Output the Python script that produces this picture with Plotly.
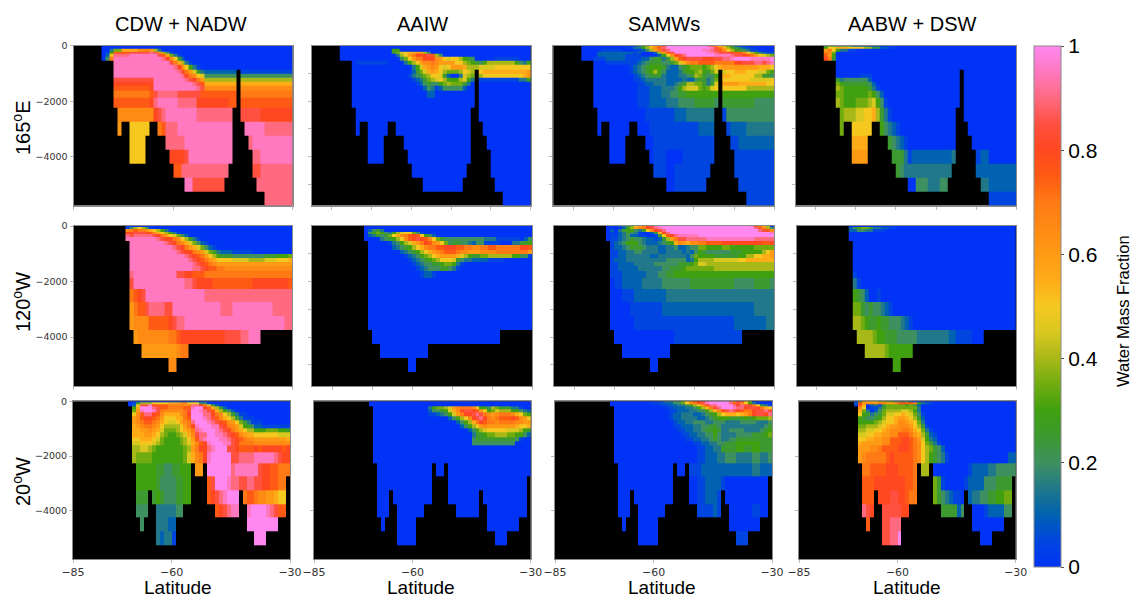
import plotly.graph_objects as go

W, H = 1132, 599
ML, MR, MT, MB = 60, 100, 40, 35
COLUMN_TITLES = ["CDW + NADW", "AAIW", "SAMWs", "AABW + DSW"]
ROW_TITLES = ["165<sup>o</sup>E", "120<sup>o</sup>W", "20<sup>o</sup>W"]
LAT_EDGES = list(range(-85, -29))
DEPTH_EDGES = [0, 50, 100, 200, 300, 400, 550, 700, 850, 1000, 1150, 1300, 1450, 1620, 1880,
               2250, 2750, 3250, 3750, 4250, 4750, 5250, 5750]

# Sea-floor depth (m) of each 1-degree column, -85 to -31
FLOOR_165E = [0]*7 + [550]*3 + [2250, 3250, 2750, 2750] + [4250]*4 + [3250, 2750, 2750, 3250, 3250, 3750, 4250] + \
    [4750]*3 + [5250]*10 + [4750, 4250, 2250, 850, 2750, 3250, 3750, 4750, 5250, 5250] + [5750]*7
FLOOR_120W = [0]*13 + [550, 3750, 4250, 4250] + [4750]*7 + [5250, 5250] + [4750]*3 + [4250]*18 + [3750]*8
FLOOR_20W = [0]*14 + [200, 2250, 4250, 4750, 4250, 3250, 3750] + [5250]*5 + [4250]*2 + [3750]*2 + \
    [2250, 2750, 2750, 2250, 3750, 3750] + [4250]*6 + [3250, 3750, 4750, 4750] + [5250]*3 + [4750]*3 + [4250]*2 + [2750]

# Fractions, one string per depth layer: a letter is a value in 0.05 steps (a=0 ... u=1),
# the number after it is the column from which that value holds.
CDW_165E = [
 "a7", "a7",
 "a7 d9 h10 l12 n16 m19 i20 d21 a22",
 "a7 b8 g9 p10 r14 s19 r20 n21 i22 e23 b24 a25",
 "a7 c8 k9 s10 t14 r21 p22 l23 h24 d25 b26 a27",
 "a7 e8 o9 t10 s22 q23 n24 k25 f26 c27 a28",
 "a7 t10 r24 o25 l26 i27 d28 b29 a30",
 "t10 s25 q26 n27 k28 g29 d30 b31 a32",
 "t10 s26 q27 o28 m29 j30 f31 d32 c33 b41",
 "t10 s27 q28 o29 n30 k31 j32 e33",
 "r10 t20 s28 r29 q30 o31 m32 i33",
 "q10 t20 s30 r31 p32 l33",
 "p10 q19 t20 s31 r32 n33",
 "o10 p19 r20 s21 r26 p32 o42",
 "p10 q19 s20 t21 s26 q31 p39",
 "n11 q20 r21 s22 t23 s31 r42 q47",
 "m11 k14 o21 p22 s23 t26 s48",
 "k14 s23 t28 s44 t45",
 "k14 q24 r28 t29 s45 t47",
 "p25 s27 r45 s47",
 "t28 r30 s46",
 "s48",
]
AAIW_165E = [
 "a7", "a7",
 "a7 g20 a22",
 "a7 f20 h21 j22 k23 l24 m26 i28 e29 a30",
 "a7 d21 i22 k23 m24 o25 q26 r29 p30 i31 e32 a33",
 "a7 e22 h23 k24 m25 o26 q28 n31 m32 k33 j34 k35 i37 g38 f39 e40 a41 b46 a52",
 "a7 b11 a19 d23 g24 i25 k26 m27 n28 o30 n31 m32 k36 i38 h39 g40 f41 e42 g43 i44 g51 e52 d53 g54",
 "a7 d25 g26 j27 l28 m29 n30 m31 k32 j33 k34 m35 l38 i39 j42 k46",
 "a7 c25 f26 h27 j28 l29 m30 l31 k32 i33 h34 i37 k38 j39 i40 k42 l43 m54",
 "a7 b24 d25 e26 f27 h28 i29 k30 j32 f33 c34 a35 d37 j38 i39 h40 i42 k43 l53 m54",
 "a7 b25 c26 d27 f28 h29 i30 j31 k32 i33 g34 i37 j38 g39 d40 b42 d52 g54",
 "a7 b26 c27 e28 f29 e30 g32 h33 i34 h35 f38 d39 a40",
 "a7 c28 e29 d30 b31 c32 e33 c38 a39",
 "a7 c29 a31",
 "a7", "a7", "a7", "a7", "a7", "a7", "a7", "a7",
]
SAMW_165E = [
 "a7 b20 d21 f22 h23 k24 m25 o26 q27 u28 s38 p39 n40 k41 i42 g43 e44 c45 b46 a47",
 "a7 b18 d20 g22 i23 l24 n25 p26 s27 u28 t39 r40 o41 l42 i43 g44 e45 d46 c47 b48 a50",
 "a7 b12 a17 b20 c22 e23 i24 m25 o26 r27 s28 u29 t37 s39 r40 p41 n42 k43 i44 g45 f46 e47 d48 b49 a51",
 "a7 c11 b20 c21 a22 c25 i26 m27 p28 r29 u30 t38 s40 r41 q44 p45 n47 k48 i49 g50 d51 c52 b53",
 "a7 c11 b18 a22 c26 g27 k28 n29 q30 r31 s32 u33 t40 s44 r45 q47 p48 o49 m50 k51 j52 i53 h54",
 "a7 b10 c13 b18 c22 e24 f25 d27 f28 i29 m30 p31 q32 r33 q37 r40 s42 t44 u45 t49 u54",
 "a7 b13 c21 d22 e23 f24 e27 f29 h30 j31 l32 n33 o34 p36 o40 q45 r47 s50 r52 s53 t54",
 "a7 b19 c20 d21 e22 f23 g24 f27 d28 c29 e31 f32 g33 h34 g37 h38 i39 k40 l41 m42 l51 k54",
 "a7 b19 c20 d21 e22 f23 g24 i25 g26 e27 c28 d31 f32 g33 h35 i36 g37 f38 h39 j40 k43 l45 k48 j51 h53 g54",
 "a7 b20 c21 d22 e23 f24 d27 c28 d31 e33 f34 i35 h36 f37 e38 g40 l42 k44 i50 f52 e54",
 "a7 b20 c22 d23 c28 d32 c33 e35 f36 d38 e39 h40 k42 j49 k54",
 "a7 b21 c23 d25 c28 d30 e31 f32 i33 h35 f37 d38 f39 j40 m42 l46 k53",
 "a7 b21 c24 d27 e30 g31 i32 j33 h36 g37 h38 j39 k40 i48",
 "a7 b21 c24 d27 e29 f31 g33",
 "a7 b21 c24 d28 e31 f35 e40 f42 e50",
 "a7 b23 c30 d33 c40 b42 e43",
 "a7 b24 c36 b43 c44 d48",
 "a14 b25 b43 c46",
 "a14 b25 a28 b32 b44",
 "b25 a28 b30 b45",
 "a28 b30 b46",
 "b48",
]
AABW_165E = [
 "e7 f8 e10 c14 b18 a21",
 "g7 k8 l10 k13 i17 f19 c21 b23 a25",
 "m7 o8 k9 g10 d11 b13 a15",
 "o7 n8 h9 a10",
 "p7 m8 g9 a10",
 "q7 o8 f9 a10",
 "a7", "a7", "a7",
 "a10 b16 a19",
 "f10 d11 e12 c18 a19",
 "h10 g11 f12 e18 c19 a20",
 "i10 h11 g12 f18 d19 b20 a21",
 "h10 g12 h18 g19 e20 c21 a22",
 "i10 h11 g12 h15 i18 j19 g20 e21 b22 a23",
 "h11 i12 j15 k17 l19 i20 f21 d22 b23 a24",
 "h11 k14 g21 e22 d23 c24 b25 a26",
 "l14 f23 e24 d25 c26 b27 a28",
 "m14 f24 d27 b28 c29 d39 b45 c46 a48",
 "f25 e26 d27 c45",
 "a28 e30 d33 e36 d46 c48",
 "b48",
]
CDW_120W = [
 "a13",
 "b13 e14 i15 k16 i17 f18 b19 a20",
 "n13 o14 p15 o16 n18 l19 k20 i21 g22 d23 b24 a25",
 "q13 r15 q18 p19 n20 l21 k22 i23 g24 d25 b26 a27",
 "s13 r14 s15 r20 q21 o22 m23 k24 j25 h26 e27 c28 a29",
 "t13 s21 r22 q23 o25 n26 k27 i28 f29 d30 b31 a32",
 "t14 s23 r24 q25 o26 n27 l28 j29 h30 e31 c32 b33 a34",
 "t14 s25 r26 q27 o28 m29 l30 j31 h32 e33 c34 b35 a36",
 "t14 s26 r27 q28 o30 n31 m32 j33 h34 f35 d36 c37 b40 a45",
 "t14 s28 r29 q30 p31 o32 m33 k34 i35 g36 f37 e40 f48 g51 h54",
 "t14 s29 r30 q31 p32 o33 m34 l35 k36 j40 i44 j48 k51 l54",
 "t14 s30 r31 q32 p33 o34 n35 m36",
 "t14 s30 r32 q33 p34 o36 n38",
 "s14 t15 r26 q28 p30 o33",
 "r14 t15 s28 r30 q31 p35 q45 p54",
 "o14 p15 q16 r17 t18 s33",
 "m14 o15 p16 r18 s19 r23 t25 s37 t40 s50",
 "m14 n15 p19 q24 r25 s26 t28 s53",
 "m15 n16 o24 p26 q27 r38 s42 t44",
 "m17 n26 o27",
 "n24",
 "a13",
]
AAIW_120W = [
 "a13", "a13",
 "a13 c14 e15 f16 d17 a18",
 "a13 e14 g15 h16 g17 e18 d19 g20 i21 j22 k23 h25 e26 b27 a28",
 "a13 c14 d15 f16 e17 f18 h19 k20 l21 n22 o23 p24 q25 p26 k27 g28 e29 c30 a31",
 "a16 d17 e18 f19 g20 i21 k22 n23 p24 q25 r26 q27 p28 n29 k30 h31 f32 e33 d43 b46 a52 c53 e54",
 "a18 b19 d20 e21 g22 i23 j24 l25 m26 o27 q28 p29 n30 m31 k32 h33 e34 f35 e37 d39 c40 e41 b43 a47 d50 f52 g54",
 "a19 c20 d21 e22 f23 g24 i25 k26 l27 n28 o29 p31 q33 p36 o38 n40 o42 p44 o46 q52 p54",
 "a21 c22 d23 e24 f25 g26 i27 k28 l29 m30 n31 o32 p33 o36 n37 m39 n42 o46 m54",
 "a22 b23 c24 d25 e26 g27 h28 i29 k30 l31 m32 l36 j37 i38 g39 f40 h42 i44 g50 e52 b54",
 "a23 b24 c25 d26 e27 f28 g29 h30 i31 k32 j35 f36 e37 d38 c40 b44 a48",
 "a24 b25 c26 d27 e28 f30 g32 h33 g35 d36 b37 a38",
 "a25 b26 c27 d28 e29 f32 e34 d35 b36 a37",
 "a26 b27 c28 b30 a31",
 "a13", "a13", "a13", "a13", "a13", "a13", "a13", "a13",
]
SAMW_120W = [
 "a13 b14 c16 d17 f18 h19 k20 m21 o22 q23 r24 t25 u26 t49 q50 o51 l52 i53 a54",
 "a13 c17 f18 i19 m20 n21 o22 q23 r24 s25 t26 u27 s50 p51 n52 i53 e54",
 "a13 c14 a15 d16 f17 g18 e20 d21 f22 k23 n24 q25 r26 s27 u28 s51 r52 p53 n54",
 "b14 a15 c16 d17 f18 e19 d20 b21 a22 c24 f25 l26 q27 s28 u29 t54",
 "b14 c16 d17 e18 c19 b21 a23 b25 f26 k27 p28 q29 s30 t31 u36",
 "b14 c16 d17 e18 f19 e20 d22 c23 b25 c26 f27 i28 m29 o30 r31 s33 t38 s50",
 "b14 c15 d16 e17 g18 e21 d22 c23 d26 e27 f28 g29 l30 n31 m32 l33 n34 o36 p38 q42 p52 q54",
 "b14 c15 d17 e18 f19 e22 d23 c26 d28 e30 c31 d33 e34 h36 g38 h42 g44 h50",
 "b14 c16 d18 e20 d22 c26 d28 c32 d33 c34 e35 g36 f37 e38 f44 g47 i52 k53 m54",
 "b14 c16 d18 c24 d26 c33 e34 h35 g36 f40 g46 i48 k50 l52 m54",
 "b14 c15 d18 e28 c33 d34 g35 i36 j40 k46 l48",
 "b14 c16 d20 e25 f31 g34 h35 j36 i38",
 "b14 c16 d21 e27 f29 g32 h33 i40",
 "b14 c17 d23 e26 f28 g30",
 "a14 b15 c17 d22 e27 f34 e45 f50 e54",
 "a14 b17 c20 d28",
 "a14 b19 c27 d50",
 "a14 b20 c45 d53",
 "a15 b30",
 "a17", "a24", "a13",
]
AABW_120W = [
 "a13",
 "c13 e14 g15 h16 f18 d19 c21 b23 a25",
 "c13 e15 d17 b19 a22",
 "a13", "a13", "a13", "a13", "a13", "a13", "a13", "a13", "a13", "a13",
 "b14 a15",
 "d14 b15 a16",
 "g14 f15 e16 c17 a18 b20 a21",
 "h14 f16 e17 f18 e19 d21 c22 b23 a24",
 "i14 h16 g17 f18 g20 f21 e23 d26 c27 b28 a29",
 "i15 h19 g20 f22 e25 d30 c38 b40 a44",
 "i17 h22 g23",
 "g24",
 "a13",
]
CDW_20W = [
 "a14",
 "a14 b15 f16 i17 k20 l24 m27 n28 k29 e32 b34 a35",
 "a14 c15 k16 r17 t19 q20 p21 o24 n28 o29 s30 q32 o33 j34 f35 c36 a37",
 "b14 g15 l16 u17 s20 r21 p22 o24 p28 t30 u31 q33 p34 l35 i36 f37 c38 a39",
 "h15 m16 t17 u18 t20 r21 o22 n23 o28 r29 u30 t32 s33 r34 p35 l36 i37 g38 e39 c40 a41",
 "k15 n16 p17 s18 q20 p21 n22 l23 n27 o28 q29 u30 s33 q35 o36 n37 k38 i39 f40 d41 b42 a44",
 "m15 n16 p17 q18 p20 o21 m22 k23 l26 o28 p29 u30 t33 s34 r35 p36 n37 l38 k39 i40 f41 d42 b43 a46",
 "m15 n16 o17 p18 o20 n21 l22 k23 j24 k26 m27 n28 o29 s30 u31 t34 s35 r36 q37 p38 n39 m40 k41 h42 f43 d44 b45 a48",
 "l15 m16 n17 o18 n20 m21 k22 i23 k27 m28 o29 q30 t31 u32 t35 r37 q38 o39 n40 m41 j42 g43 f44 e45 c46 b48",
 "l15 m17 n19 m20 l21 j22 h23 i26 k27 l28 m29 o30 s31 t32 u33 t36 s37 r38 q39 o40 m41 l42 k43 i44 g46 h49 g52 f54",
 "l15 m18 l20 k21 i22 h23 g24 h26 i27 j28 l29 n30 r31 s32 u34 t36 s38 r39 q40 p41 n42 m43 l44 k46 j52",
 "k15 l17 k20 j21 h22 g23 h27 i28 k29 m30 p31 s32 t33 u34 t37 s39 r40 q41 p42 o43 n44 m46 l54",
 "j15 k17 j20 i21 h22 g23 h27 i28 j29 l30 n31 p32 q33 t34 u35 t38 r40 q41 o42 n46",
 "i15 j17 i19 h20 g21 h28 i29 m30 o31 q32 s34 t35 u36 r39 q41 p42 q46 p47 q48 p53 q54",
 "i15 h16 g20 h28 j29 l30 n31 o32 q33 t34 u35 r40 s42 t46 s51 r52 q53",
 "g16 f21 e23 f25 g27 m31 u34 s40 t41 r47 q48 p50 o52",
 "g16 f21 e22 f26 g28 p34 r35 u36 t39 s40 r42 s44 r46 q48 p50 o52",
 "f16 g21 f22 e23 f26 g28 p34 q35 r36 s37 t38 u39 o43 p44 o46 n47 m49 l51 k52",
 "e16 d21 e26 p36 q37 r38 s39 t40 t44 u45 t49 s50 r51 p52",
 "e17 d21 c24 u44",
 "d21 c22 d23 b25 u46",
 "a14",
]
AAIW_20W = [
 "a14", "a14", "a14",
 "a14 d29 g30 h31 i33 j34 m35 n36 o37 n40 k41 g42 e44 i45 h46 f47 d50 b52 a53",
 "a14 c29 e30 f32 g33 j34 l35 n36 q37 r38 q40 p41 m42 k43 g44 h45 j46 i47 g50 e52 d53 c54",
 "a14 b29 c31 d32 e33 g34 j35 m36 o37 q38 r40 s41 r42 o43 n44 m45 n46 o47 n50 l51 k52 h53 g54",
 "a33 c34 e35 g36 i37 k38 n39 q40 r41 s42 q43 o44 n45 o46 p47 q50 p51 n52 m53 k54",
 "a35 c36 e37 g38 i39 l40 o41 q42 p43 o44 n46 o47 n51 m53",
 "a36 c37 e38 g39 i40 k41 m42 n43 m44 l51 k52 l54",
 "a38 c39 e40 g41 i42 j43 k44 j49 i52 g53 f54",
 "a39 d40 f41 g43 h44 i46 h49 g51 e53 c54",
 "a39 e40 f41 e51 b52 a53",
 "a39 e40 a51",
 "a14", "a14", "a14", "a14", "a14", "a14", "a14", "a14", "a14",
]
SAMW_20W = [
 "a14 b26 d28 e30 h32 k33 n34 p35 q36 r37 t38 u39 s44 n45 q46 r47 k48 h49 a50",
 "a14 b24 c27 e30 h32 k33 n34 o35 q36 r37 t38 u39 s44 p45 r46 n47 k48 g49 d50 b51 a52",
 "a14 b26 c29 d31 e33 g34 i35 k36 n37 q38 s39 u41 s45 q46 s47 r48 q49 o50 k51 f52 d53 b54",
 "a14 b28 c30 d33 e35 g36 i37 l38 o39 r40 s41 u42 t45 s46 q48 r49 q51 o52 l53 k54",
 "a14 b29 c31 d34 e36 g38 i39 l40 n41 q42 r43 s44 r45 q46 p47 o48 q50 r51 s53 r54",
 "a14 b29 c30 d32 c35 d37 e38 f39 g40 i41 k42 l43 k46 l47 m48 o49 q50 r51 q53 s54",
 "a14 b29 c30 d32 c36 d38 e39 f40 g41 f44 g48 f49 g50 h51 i54",
 "a14 b30 c31 d33 e35 d38 e40 d43 e47 d51 e54",
 "a14 b30 c32 d35 e37 f39 e41 d42 e53 f54",
 "a14 b31 c33 d35 e37 f38 g40 f41 d42 e44 d48 e52 f53 g54",
 "a14 b32 c34 d36 e38 g40 e41 d42 e46 f50 g53 h54",
 "a14 b33 c35 d37 e39 f40 e41 d42 e44 f46",
 "a14 b35 c37 d39 e41 f43 g46 f52",
 "a14 b36 c38 d40 f42 g46 f48 g50 f52",
 "a14 b36 c38 d41 e43 d46 e50 d52 e54",
 "a16 b34 c37 d50 c52",
 "a16 b36 c38 b42 a43",
 "a16 b36 c38 b41 a43",
 "a16 b36 c40 b41 a44 b50 a52",
 "a17", "a21 b46", "a14",
]
AABW_20W = [
 "a14 f15 l16 k18 i20 h22 e24 c28 a29",
 "c14 q15 n16 o20 m22 n24 p25 q26 p27 o29 g30 d31 c32 b33 a34",
 "a14 p15 l16 a17 c18 d19 b20 f21 h22 g27 h28 f29 c30 a31",
 "n15 k16 a17 b18 d20 f21 h22 d30 a31",
 "l15 h16 d17 a18 c19 e20 h21 i22 j26 i28 g29 d30 a31",
 "k15 g16 f17 d18 e19 f20 h21 j22 k24 l26 k27 j28 h29 e30 b31 a32",
 "g15 f16 e17 f19 g20 i21 k22 l24 m25 l27 k28 i29 f30 c31 a32",
 "g15 h19 i20 j21 k22 l24 n25 m27 l28 k29 h30 d31 a32",
 "h15 i17 j20 k21 l22 m23 n25 m28 k29 i30 f31 b32 a33",
 "i15 j17 k19 l21 m22 n23 o26 n28 l29 k30 h31 d32 b33 a34",
 "j15 k17 l19 m21 n23 p25 o28 m29 l30 i31 f32 c33 b34 a35",
 "k15 l17 m19 n21 p23 q26 p28 o29 m30 j31 g32 d33 c34 a35",
 "l15 m16 n21 p23 q26 p28 o29 n30 k31 h32 f33 d34 b35 a36",
 "m15 n18 o20 p21 q25 p28 o29 n30 k31 i32 h33 f34 e35 c36 a37",
 "m15 n16 o17 p22 q23 p24 o29 n30 k31 i32 g33 f34 e35 d36 b37 a38 c53",
 "o16 p18 q22 p25 o29 i31 a34 b43 c44 d48 e50",
 "p16 q19 p27 o29 h34 f35 b36 a37 b42 c43 e47 f50",
 "p16 q20 r23 q25 p27 o28 h34 f35 e36 d37 c38 b39 a41 c43 d44 e46 f48 g50 h52",
 "s16 r17 q18 r21 q26 f36 c40 e41 a44 b47 c48 e52",
 "p17 r21 s23 a44",
 "r21 s23 u25 a46",
 "a14",
]

PANELS = [[CDW_165E, AAIW_165E, SAMW_165E, AABW_165E],
          [CDW_120W, AAIW_120W, SAMW_120W, AABW_120W],
          [CDW_20W, AAIW_20W, SAMW_20W, AABW_20W]]
FLOORS = [FLOOR_165E, FLOOR_120W, FLOOR_20W]

# Pixel boxes (left, right, top, bottom) of the panels
BOX_X = [[73.5, 292.5, 311.7, 530.7, 553.3, 774.3, 795.7, 1016.3],
         [73.5, 292.0, 312.0, 532.0, 554.0, 774.0, 796.7, 1016.0],
         [73.0, 290.0, 314.0, 530.7, 555.0, 772.0, 799.0, 1015.7]]
BOX_Y = [[45.7, 205.5], [226.0, 386.0], [401.3, 559.0]]

COLORS = [[0.0, "#0033f5"], [0.05, "#0045e0"], [0.1, "#0062b0"], [0.15, "#20788a"], [0.2, "#3f9060"],
          [0.25, "#3c9a30"], [0.3, "#40a010"], [0.35, "#70ac10"], [0.4, "#a8b818"], [0.45, "#d8c820"],
          [0.5, "#f5c820"], [0.55, "#ffac18"], [0.6, "#ff9a14"], [0.7, "#ff7a14"], [0.75, "#ff5a14"],
          [0.8, "#ff4820"], [0.85, "#ff5040"], [0.9, "#ff6a80"], [0.95, "#ff78c0"], [1.0, "#ff88f0"]]


def px_x(x):
    return (x - ML) / (W - ML - MR)


def px_y(y):
    return 1 - (y - MT) / (H - MT - MB)


def decode(rows, floor):
    z = []
    for k, row in enumerate(rows):
        cells = [0.0] * 55
        for token in row.split():
            v = (ord(token[0]) - ord("a")) * 0.05
            c = int(token[1:])
            cells[c:] = [v] * (55 - c)
        z.append([cells[c] if DEPTH_EDGES[k + 1] <= floor[c] else None for c in range(55)])
    return z


fig = go.Figure()
layout = {}
TEXT = "Liberation Sans"
TICK = "DejaVu Sans"
for r in range(3):
    for c in range(4):
        n = r * 4 + c + 1
        sfx = "" if n == 1 else str(n)
        fig.add_trace(go.Heatmap(x=LAT_EDGES, y=[-d for d in DEPTH_EDGES],
                                 z=decode(PANELS[r][c], FLOORS[r]), coloraxis="coloraxis",
                                 xaxis="x" + sfx, yaxis="y" + sfx, hoverongaps=False))
        x0, x1 = BOX_X[r][2 * c], BOX_X[r][2 * c + 1]
        y0, y1 = BOX_Y[r]
        xticks = [-85, -60, -30] if (c == 0 or r == 2) else [-80, -70, -60, -50, -40, -30]
        yticks = [0, -2000, -4000] if c == 0 else ([-2000, -4000] if r == 2 else [-1000, -2000, -3000, -4000, -5000])
        layout["xaxis" + sfx] = dict(domain=[px_x(x0), px_x(x1)], range=[-85, -30], anchor="y" + sfx,
                                     tickvals=xticks, showticklabels=r == 2, ticks="outside", ticklen=3,
                                     tickcolor="#bbbbbb", tickfont=dict(family=TICK, size=11, color="#333333"),
                                     showline=True, mirror=True, linecolor="#8a8a8a", linewidth=1,
                                     showgrid=False, zeroline=False)
        layout["yaxis" + sfx] = dict(domain=[px_y(y1), px_y(y0)], range=[-5760, 0], anchor="x" + sfx,
                                     tickvals=yticks, showticklabels=c == 0, ticks="outside", ticklen=3,
                                     tickcolor="#bbbbbb", tickfont=dict(family=TICK, size=9.5, color="#333333"),
                                     showline=True, mirror=True, linecolor="#8a8a8a", linewidth=1,
                                     showgrid=False, zeroline=False)

notes = []
for t, cx in zip(COLUMN_TITLES, [181, 422, 664, 912]):
    notes.append(dict(text=t, x=px_x(cx), y=px_y(24), font=dict(size=20)))
for t, cy in zip(ROW_TITLES, [128, 302, 482]):
    notes.append(dict(text=t, x=px_x(21), y=px_y(cy), textangle=-90, font=dict(size=20)))
for cx in [178, 421, 662, 907]:
    notes.append(dict(text="Latitude", x=px_x(cx), y=px_y(587), font=dict(size=19)))
notes.append(dict(text="Water Mass Fraction", x=px_x(1123), y=px_y(311), textangle=-90, font=dict(size=16.5)))
for a in notes:
    a.update(xref="paper", yref="paper", xanchor="center", yanchor="middle", showarrow=False)
    a["font"].update(family=TEXT, color="#000000")

fig.update_layout(
    width=W, height=H, margin=dict(l=ML, r=MR, t=MT, b=MB), autosize=False,
    paper_bgcolor="white", plot_bgcolor="black", showlegend=False, annotations=notes,
    coloraxis=dict(cmin=0, cmax=1, colorscale=COLORS,
                   colorbar=dict(x=px_x(1034), xanchor="left", y=px_y(46), yanchor="top", ypad=0, xpad=0,
                                 lenmode="pixels", len=521, thicknessmode="pixels", thickness=27,
                                 outlinecolor="#8a8a8a", outlinewidth=1, tickvals=[0, 0.2, 0.4, 0.6, 0.8, 1],
                                 ticktext=["0", "0.2", "0.4", "0.6", "0.8", "1"], ticks="outside", ticklen=3,
                                 tickcolor="#555555", tickfont=dict(family=TEXT, size=21, color="#000000"))),
    **layout)
fig.write_html("out.html", config={"displayModeBar": False},
               post_script="document.body.style.margin='0';")
